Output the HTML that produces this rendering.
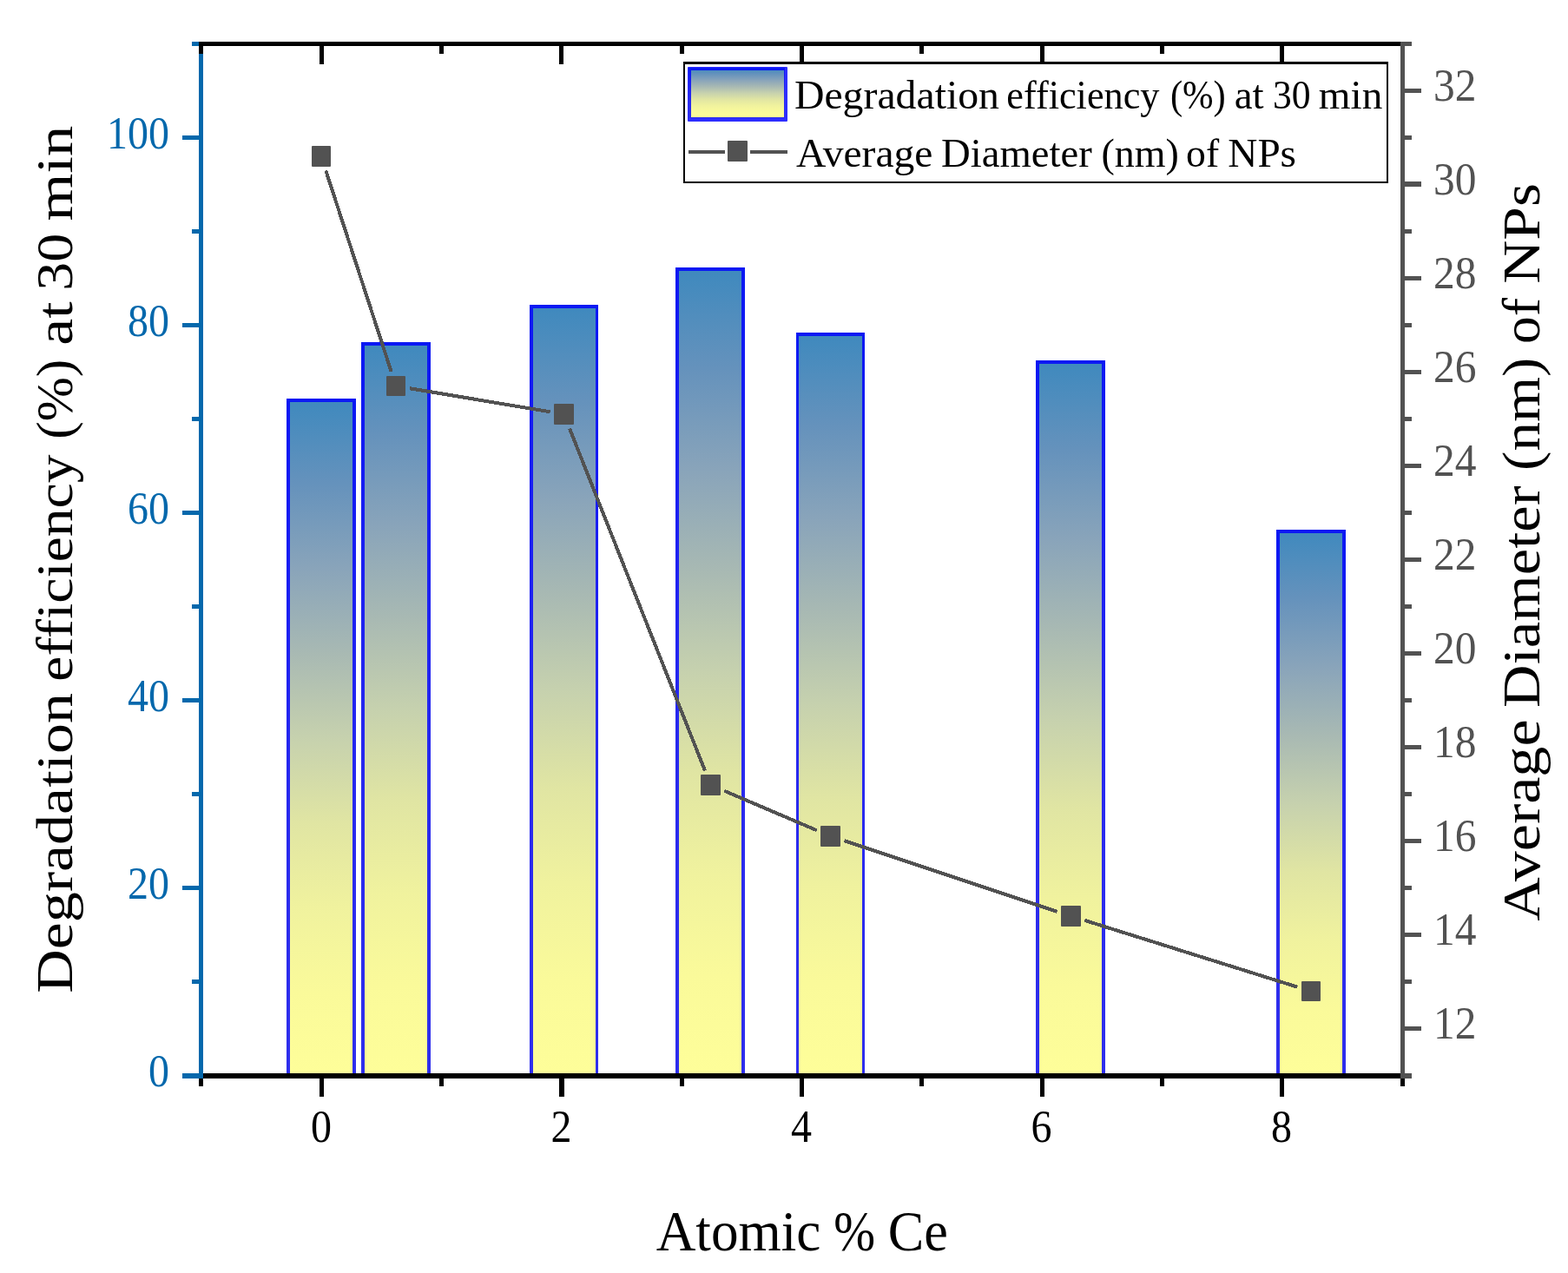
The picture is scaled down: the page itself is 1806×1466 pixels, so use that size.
<!DOCTYPE html>
<html lang="en"><head><meta charset="utf-8"><title>Degradation efficiency and average diameter vs atomic % Ce</title>
<style>html,body{margin:0;padding:0;background:#fff}body{width:1806px;height:1466px;overflow:hidden}svg{display:block}text{font-family:"Liberation Serif","DejaVu Serif",serif}</style>
</head><body>
<svg width="1806" height="1466" viewBox="0 0 1806 1466">
<defs><linearGradient id="g" x1="0" y1="0" x2="0" y2="1"><stop offset="0" stop-color="#3e89be"/><stop offset="0.125" stop-color="#6592bc"/><stop offset="0.25" stop-color="#89a4ba"/><stop offset="0.375" stop-color="#a8b9b3"/><stop offset="0.5" stop-color="#c6d1ae"/><stop offset="0.625" stop-color="#e0e5a3"/><stop offset="0.75" stop-color="#f0f29e"/><stop offset="0.875" stop-color="#fafa9a"/><stop offset="1" stop-color="#fefe99"/></linearGradient></defs>
<rect width="1806" height="1466" fill="#fff"/>
<g>
<rect x="330" y="459" width="80" height="780" fill="url(#g)"/>
<rect x="416" y="394" width="80" height="845" fill="url(#g)"/>
<rect x="610" y="351" width="79" height="888" fill="url(#g)"/>
<rect x="778" y="308" width="80" height="931" fill="url(#g)"/>
<rect x="917" y="383" width="79" height="856" fill="url(#g)"/>
<rect x="1193" y="415" width="80" height="824" fill="url(#g)"/>
<rect x="1470" y="610" width="80" height="629" fill="url(#g)"/>
</g>
<g fill="#0000ff" fill-opacity="0.82">
<path d="M330 459H410V1239H406V463H334V1239H330Z"/>
<path d="M416 394H496V1239H492V398H420V1239H416Z"/>
<path d="M610 351H689V1239H686V355H614V1239H610Z"/>
<path d="M778 308H858V1239H854V312H782V1239H778Z"/>
<path d="M917 383H996V1239H993V387H920V1239H917Z"/>
<path d="M1193 415H1273V1239H1269V419H1197V1239H1193Z"/>
<path d="M1470 610H1550V1239H1546V614H1474V1239H1470Z"/>
</g>
<g stroke="#525252" stroke-width="4" fill="none" shape-rendering="crispEdges">
<line x1="375.3" y1="196.4" x2="450.7" y2="428.1"/>
<line x1="471.8" y1="447.2" x2="633.7" y2="474.3"/>
<line x1="656.0" y1="493.4" x2="812.0" y2="887.6"/>
<line x1="834.3" y1="910.8" x2="940.7" y2="956.2"/>
<line x1="972.3" y1="968.2" x2="1217.7" y2="1049.8"/>
<line x1="1249.3" y1="1059.9" x2="1494.2" y2="1136.6"/>
</g>
<g fill="#525252">
<rect x="359" y="168" width="22" height="24" rx="1"/>
<rect x="445" y="433" width="22" height="23" rx="1"/>
<rect x="638" y="465" width="23" height="24" rx="1"/>
<rect x="807" y="892" width="23" height="24" rx="1"/>
<rect x="945" y="951" width="23" height="24" rx="1"/>
<rect x="1222" y="1043" width="23" height="24" rx="1"/>
<rect x="1499" y="1130" width="22" height="23" rx="1"/>
</g>
<g fill="#000">
<rect x="229" y="48" width="1389" height="5"/>
<rect x="229" y="1236" width="1389" height="6"/>
<rect x="229" y="53" width="5" height="9"/>
<rect x="229" y="1242" width="5" height="9"/>
<rect x="368" y="53" width="5" height="21"/>
<rect x="368" y="1242" width="5" height="21"/>
<rect x="506" y="53" width="5" height="9"/>
<rect x="506" y="1242" width="5" height="9"/>
<rect x="644" y="53" width="5" height="21"/>
<rect x="644" y="1242" width="6" height="21"/>
<rect x="783" y="53" width="5" height="9"/>
<rect x="783" y="1242" width="5" height="9"/>
<rect x="921" y="53" width="5" height="21"/>
<rect x="921" y="1242" width="5" height="21"/>
<rect x="1059" y="53" width="5" height="9"/>
<rect x="1059" y="1242" width="5" height="9"/>
<rect x="1198" y="53" width="5" height="21"/>
<rect x="1198" y="1242" width="5" height="21"/>
<rect x="1336" y="53" width="5" height="9"/>
<rect x="1336" y="1242" width="5" height="9"/>
<rect x="1474" y="53" width="5" height="21"/>
<rect x="1474" y="1242" width="5" height="21"/>
<rect x="1613" y="53" width="5" height="9"/>
<rect x="1613" y="1242" width="5" height="9"/>
</g>
<g fill="#0468ac">
<rect x="229" y="62" width="5" height="1180"/>
<rect x="210" y="1236" width="24" height="6"/>
<rect x="221" y="1128" width="8" height="5"/>
<rect x="210" y="1020" width="19" height="5"/>
<rect x="221" y="912" width="8" height="5"/>
<rect x="210" y="804" width="19" height="5"/>
<rect x="221" y="696" width="8" height="5"/>
<rect x="210" y="588" width="19" height="5"/>
<rect x="221" y="480" width="8" height="5"/>
<rect x="210" y="372" width="19" height="5"/>
<rect x="221" y="264" width="8" height="5"/>
<rect x="210" y="156" width="19" height="5"/>
<rect x="221" y="48" width="8" height="5"/>
</g>
<g fill="#525252">
<rect x="1613" y="48" width="5" height="1194"/>
<rect x="1618" y="1236" width="8" height="6"/>
<rect x="1618" y="1182" width="19" height="5"/>
<rect x="1618" y="1128" width="8" height="5"/>
<rect x="1618" y="1074" width="19" height="5"/>
<rect x="1618" y="1020" width="8" height="5"/>
<rect x="1618" y="966" width="19" height="5"/>
<rect x="1618" y="912" width="8" height="5"/>
<rect x="1618" y="858" width="19" height="5"/>
<rect x="1618" y="804" width="8" height="5"/>
<rect x="1618" y="750" width="19" height="5"/>
<rect x="1618" y="696" width="8" height="5"/>
<rect x="1618" y="642" width="19" height="5"/>
<rect x="1618" y="588" width="8" height="5"/>
<rect x="1618" y="534" width="19" height="5"/>
<rect x="1618" y="480" width="8" height="5"/>
<rect x="1618" y="426" width="19" height="5"/>
<rect x="1618" y="372" width="8" height="5"/>
<rect x="1618" y="318" width="19" height="5"/>
<rect x="1618" y="264" width="8" height="5"/>
<rect x="1618" y="209" width="19" height="6"/>
<rect x="1618" y="156" width="8" height="5"/>
<rect x="1618" y="102" width="19" height="5"/>
<rect x="1618" y="48" width="8" height="5"/>
</g>
<g font-size="53.5" fill="#0468ac" text-anchor="end">
<text x="195" y="1250.5" textLength="24.0" lengthAdjust="spacingAndGlyphs">0</text>
<text x="195" y="1034.5" textLength="48.0" lengthAdjust="spacingAndGlyphs">20</text>
<text x="195" y="818.5" textLength="48.0" lengthAdjust="spacingAndGlyphs">40</text>
<text x="195" y="602.5" textLength="48.0" lengthAdjust="spacingAndGlyphs">60</text>
<text x="195" y="386.5" textLength="48.0" lengthAdjust="spacingAndGlyphs">80</text>
<text x="195" y="170.5" textLength="72.0" lengthAdjust="spacingAndGlyphs">100</text>
</g>
<g font-size="53.5" fill="#525252" text-anchor="end">
<text x="1700.4" y="1196.3" textLength="49.4" lengthAdjust="spacingAndGlyphs">12</text>
<text x="1700.4" y="1088.3" textLength="49.4" lengthAdjust="spacingAndGlyphs">14</text>
<text x="1700.4" y="980.3" textLength="49.4" lengthAdjust="spacingAndGlyphs">16</text>
<text x="1700.4" y="872.3" textLength="49.4" lengthAdjust="spacingAndGlyphs">18</text>
<text x="1700.4" y="764.3" textLength="49.4" lengthAdjust="spacingAndGlyphs">20</text>
<text x="1700.4" y="656.3" textLength="49.4" lengthAdjust="spacingAndGlyphs">22</text>
<text x="1700.4" y="548.3" textLength="49.4" lengthAdjust="spacingAndGlyphs">24</text>
<text x="1700.4" y="440.3" textLength="49.4" lengthAdjust="spacingAndGlyphs">26</text>
<text x="1700.4" y="332.3" textLength="49.4" lengthAdjust="spacingAndGlyphs">28</text>
<text x="1700.4" y="224.3" textLength="49.4" lengthAdjust="spacingAndGlyphs">30</text>
<text x="1700.4" y="116.3" textLength="49.4" lengthAdjust="spacingAndGlyphs">32</text>
</g>
<g font-size="53.5" fill="#000" text-anchor="middle">
<text x="370.0" y="1315.3" textLength="24.0" lengthAdjust="spacingAndGlyphs">0</text>
<text x="646.5" y="1315.3" textLength="24.0" lengthAdjust="spacingAndGlyphs">2</text>
<text x="923.0" y="1315.3" textLength="24.0" lengthAdjust="spacingAndGlyphs">4</text>
<text x="1199.5" y="1315.3" textLength="24.0" lengthAdjust="spacingAndGlyphs">6</text>
<text x="1476.0" y="1315.3" textLength="24.0" lengthAdjust="spacingAndGlyphs">8</text>
</g>
<text y="1439.7" font-size="65"><tspan x="755.7" textLength="189.6" lengthAdjust="spacingAndGlyphs">Atomic</tspan> <tspan x="960.3" textLength="47.8" lengthAdjust="spacingAndGlyphs">%</tspan> <tspan x="1022.8" textLength="69.1" lengthAdjust="spacingAndGlyphs">Ce</tspan></text>
<text transform="translate(83,1200) rotate(-90)" y="0" font-size="60"><tspan x="56.2" textLength="345.8" lengthAdjust="spacingAndGlyphs">Degradation</tspan> <tspan x="415.3" textLength="261.3" lengthAdjust="spacingAndGlyphs">efficiency</tspan> <tspan x="694.3" textLength="91.9" lengthAdjust="spacingAndGlyphs">(%)</tspan> <tspan x="802.3" textLength="50.3" lengthAdjust="spacingAndGlyphs">at</tspan> <tspan x="865.3" textLength="65.8" lengthAdjust="spacingAndGlyphs">30</tspan> <tspan x="945.5" textLength="109.7" lengthAdjust="spacingAndGlyphs">min</tspan></text>
<text transform="translate(1773.2,1200) rotate(-90)" y="0" font-size="60.5"><tspan x="139.3" textLength="232.2" lengthAdjust="spacingAndGlyphs">Average</tspan> <tspan x="385.0" textLength="255.7" lengthAdjust="spacingAndGlyphs">Diameter</tspan> <tspan x="658.1" textLength="130.2" lengthAdjust="spacingAndGlyphs">(nm)</tspan> <tspan x="803.9" textLength="52.9" lengthAdjust="spacingAndGlyphs">of</tspan> <tspan x="873.2" textLength="115.8" lengthAdjust="spacingAndGlyphs">NPs</tspan></text>
<g>
<rect x="788" y="72.25" width="810" height="137.75" fill="#fff" stroke="#000" stroke-width="2"/>
<rect x="787" y="71" width="812" height="3" fill="#000"/>
<rect x="793" y="78" width="111" height="58" fill="url(#g)"/>
<path d="M793 77H906Q907 77 907 78V139Q907 140 906 140H793Q792 140 792 139V78Q792 77 793 77ZM796 81V135H903V81Z" fill-rule="evenodd" fill="#0000ff" fill-opacity="0.82"/>
<rect x="793" y="173" width="42" height="4" fill="#525252"/>
<rect x="864" y="173" width="43" height="4" fill="#525252"/>
<rect x="838" y="162" width="23" height="24" rx="1" fill="#525252"/>
<text y="125" font-size="46.5"><tspan x="914.9" textLength="236.1" lengthAdjust="spacingAndGlyphs">Degradation</tspan> <tspan x="1159.3" textLength="176.2" lengthAdjust="spacingAndGlyphs">efficiency</tspan> <tspan x="1347.9" textLength="63.9" lengthAdjust="spacingAndGlyphs">(%)</tspan> <tspan x="1421.7" textLength="33.9" lengthAdjust="spacingAndGlyphs">at</tspan> <tspan x="1465.9" textLength="43.6" lengthAdjust="spacingAndGlyphs">30</tspan> <tspan x="1518.8" textLength="73.5" lengthAdjust="spacingAndGlyphs">min</tspan></text>
<text y="192.1" font-size="46.5"><tspan x="916.9" textLength="157.6" lengthAdjust="spacingAndGlyphs">Average</tspan> <tspan x="1084.1" textLength="173.7" lengthAdjust="spacingAndGlyphs">Diameter</tspan> <tspan x="1268.4" textLength="89.3" lengthAdjust="spacingAndGlyphs">(nm)</tspan> <tspan x="1366.1" textLength="38.0" lengthAdjust="spacingAndGlyphs">of</tspan> <tspan x="1414.3" textLength="78.7" lengthAdjust="spacingAndGlyphs">NPs</tspan></text>
</g>
</svg></body></html>
